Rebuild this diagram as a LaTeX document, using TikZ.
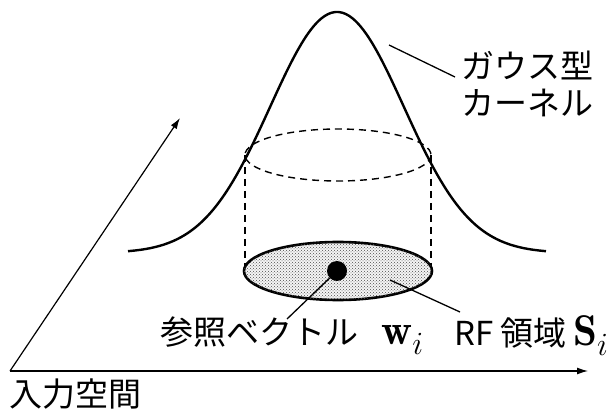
\documentclass[tikz,border=0pt]{standalone}
\usepackage{graphicx}
\usepackage{fontspec}
\newfontfamily\jpfont{Noto Sans CJK JP}
\usetikzlibrary{arrows.meta, patterns, shapes.geometric, positioning}
\newcommand{\bigmath}[1]{\scalebox{1.3}{$#1$}}

\begin{document}
\begin{tikzpicture}[x=1pt, y=-1pt,
  axis/.style={line width=1.2pt, -{Latex[length=11pt,width=7pt]}},
  curve/.style={line width=2.4pt},
  hidden/.style={line width=1.4pt, dash pattern=on 7pt off 5pt},
  leader/.style={line width=1.3pt},
  label/.style={font=\jpfont\fontsize{33}{37}\selectfont, inner sep=0pt},
  region/.style={ellipse, draw, line width=2.6pt, minimum width=188pt,
    minimum height=58pt, fill=gray!8, postaction={pattern=crosshatch dots, pattern color=black!70}},
  refdot/.style={circle, fill=black, minimum size=20pt, inner sep=0pt},
]
  \useasboundingbox (0,0) rectangle (616,414);
  % axes of the input space
  \coordinate (o) at (10,371);
  \coordinate (xend) at (588,371);
  \coordinate (yend) at (180,118);
  \draw[axis] (o) -- (xend);
  \draw[axis] (o) -- (yend);
  % gauss kernel
  \draw[curve] plot[domain=128:546, samples=120, smooth]
    (\x, {253-241*exp(-((\x-337)/100)^2/0.894)});
  % cylinder
  \draw[hidden] (338,155) ellipse [x radius=93, y radius=26];
  \draw[hidden] (245,155) -- (245,271);
  \draw[hidden] (431,155) -- (431,271);
  \node[region] (rf) at (338,271) {};
  \node[refdot] (wref) at (337,271) {};
  % labels
  \node[label, anchor=west, align=left] (kernel) at (461,84) {ガウス型\\カーネル};
  \node[label, anchor=west] (wlabel) at (160,336) {参照ベクトル\hspace{0.7em}\bigmath{\mathbf{w}_i}};
  \node[label, anchor=west] (slabel) at (454,336) {RF 領域\hspace{0.2em}\bigmath{\mathbf{S}_i}};
  \node[label, anchor=west] (space) at (9,394) {入力空間};
  % leaders
  \coordinate (kfoot) at (389,45);
  \coordinate (ktip) at (455,77);
  \coordinate (sfoot) at (390,280);
  \coordinate (stip) at (460,312);
  \coordinate (wtip) at (287,319);
  \draw[leader] (kfoot) -- (ktip);
  \draw[leader] (sfoot) -- (stip);
  \draw[leader] (wref) -- (wtip);
\end{tikzpicture}
\end{document}
